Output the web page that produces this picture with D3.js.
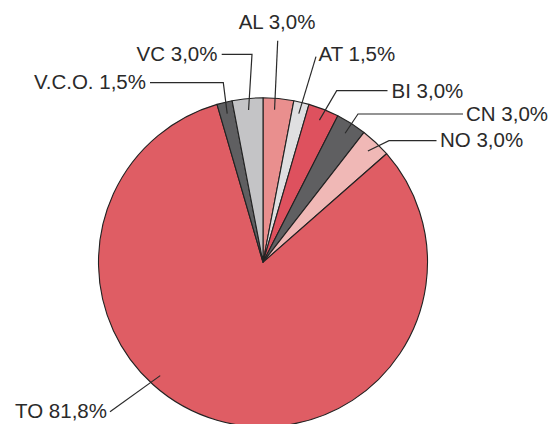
<!DOCTYPE html>
<html><head><meta charset="utf-8">
<script src="https://cdn.jsdelivr.net/npm/d3@7"></script>
<style>
html,body{margin:0;padding:0;background:#fff;}
text{font-family:"Liberation Sans",Arial,sans-serif;font-size:20.5px;fill:#2a2a2a;}
</style></head>
<body><svg id="c" width="553" height="424"></svg>
<script>
const categories = ["AL","AT","BI","CN","NO","TO","V.C.O.","VC"];
const values = [3.0,1.5,3.0,3.0,3.0,81.8,1.5,3.0];
const labels = ["AL 3,0%","AT 1,5%","BI 3,0%","CN 3,0%","NO 3,0%","TO 81,8%","V.C.O. 1,5%","VC 3,0%"];
const colors = ["#e98f8e","#dfdfe1","#de515e","#5f5f61","#f0b8b6","#df5d64","#5f5f61","#c4c4c6"];

// label layout: pointer position within slice (frac), elbow (ex,ey), line end x, text anchor/pos
const layout = {
  "AL":    {frac:0.4, ex:277.7, ey:40.7, lx:277.7, anchor:"middle", tx:277, ty:29},
  "AT":    {frac:0.5, ex:316,   ey:56.7, lx:316,   anchor:"start",  tx:318.5, ty:61},
  "BI":    {frac:0.5, ex:336.7, ey:90.7, lx:387.5, anchor:"start",  tx:391.5, ty:97.5},
  "CN":    {frac:0.5, ex:358,   ey:114,  lx:463,   anchor:"start",  tx:466,   ty:121},
  "NO":    {frac:0.5, ex:389,   ey:140.7,lx:436.5, anchor:"start",  tx:440,   ty:147},
  "TO":    {frac:0.588, ex:110, ey:411.7,lx:110,   anchor:"end",    tx:107,   ty:418},
  "V.C.O.":{frac:0.5, ex:223.3, ey:82.7, lx:150,   anchor:"end",    tx:146,   ty:89},
  "VC":    {frac:0.5, ex:252,   ey:54.3, lx:221.7, anchor:"end",    tx:217.5, ty:60.5}
};

const cx = 263, cy = 262.3, r = 164.5;
const svg = d3.select("#c");
const g = svg.append("g").attr("transform", `translate(${cx},${cy})`);

const data = categories.map((c,i)=>({cat:c, value:values[i], label:labels[i], color:colors[i]}));
const pie = d3.pie().value(d=>d.value).sort(null).startAngle(0).endAngle(2*Math.PI);
const arcs = pie(data);
const arc = d3.arc().innerRadius(0).outerRadius(r);

g.selectAll("path.slice").data(arcs).join("path")
  .attr("class","slice")
  .attr("d", arc)
  .attr("fill", d=>d.data.color)
  .attr("stroke", "#222")
  .attr("stroke-width", 1.1)
  .attr("stroke-linejoin","round");

const inner = r*0.93;
arcs.forEach(a=>{
  const L = layout[a.data.cat];
  const ang = a.startAngle + (a.endAngle - a.startAngle)*L.frac;
  const px = cx + inner*Math.sin(ang), py = cy - inner*Math.cos(ang);
  const pts = [[px,py],[L.ex,L.ey],[L.lx,L.ey]];
  svg.append("path")
    .attr("d", d3.line()(pts))
    .attr("fill","none")
    .attr("stroke","#2a2a2a")
    .attr("stroke-width",1.2);
  svg.append("text")
    .attr("x", L.tx).attr("y", L.ty)
    .attr("text-anchor", L.anchor)
    .text(a.data.label);
});
</script></body></html>
